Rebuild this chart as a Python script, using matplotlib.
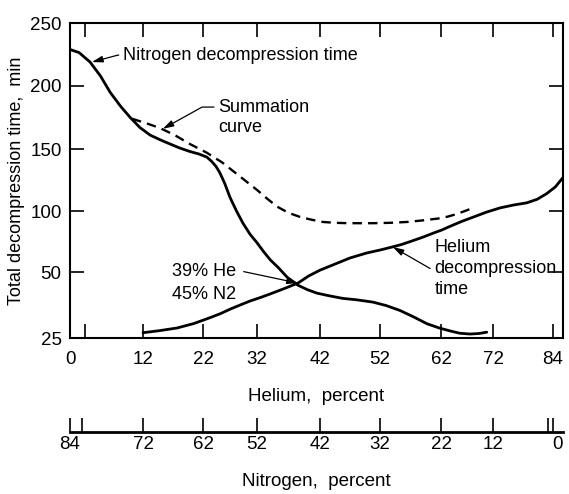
import numpy as np
import matplotlib
matplotlib.use("Agg")
import matplotlib.pyplot as plt

plt.rcParams['font.family'] = ['Liberation Sans', 'DejaVu Sans']

# axis calibration of the original drawing (values -> pixel offsets)
he_breaks = [0, 12, 22, 32, 42, 52, 62, 72, 84]
he_pixels = [0, 73, 133, 187, 250, 310, 371, 423, 493]
t_breaks = [25, 50, 100, 150, 200, 250]
t_pixels = [0, 66, 127, 189, 252, 315]

he_labels = [0, 12, 22, 32, 42, 52, 62, 72, 84]
he_marks = [2.5, 12, 22, 32, 42, 52, 62, 72, 82.3]
n_labels = [84, 72, 62, 52, 42, 32, 22, 12, 0]
n_marks = [84, 82, 72, 62, 52, 42, 32, 22, 12, 2.6, 1.7]
t_ticks = [25, 50, 100, 150, 200, 250]

# curves (helium percent, minutes)
nitrogen_he = [0, 1.5, 3.3, 5, 6.6, 8.3, 9.9, 11.5, 13.2, 15, 16.5, 18, 19.8,
               21.3, 22.7, 23.6, 24.4, 25.1, 26, 27, 28.2, 29.4, 30.7, 32, 33,
               34.1, 35.4, 36.8, 38.5, 40, 41.5, 43.5, 45.8, 48, 50.8, 53, 55.3,
               57.5, 59.7, 61.7, 63.7, 65.6, 67.6, 69.3, 70.8]
nitrogen_t = [229, 226.5, 219, 208, 195, 184, 175, 167, 161, 157, 154, 151,
              148, 146, 143.5, 140, 136, 131, 122.5, 111, 100, 90, 81, 74, 67,
              60, 53.5, 48, 45, 43.3, 42, 41, 40, 39.5, 38.6, 37.3, 35.4,
              33, 30.4, 28.8, 27.7, 26.8, 26.5, 26.7, 27.2]

helium_he = [12, 14.8, 17.7, 20.5, 23.3, 25.2, 27.1, 29, 30.7, 32.5, 34, 36.3,
             38.5, 40.2, 42, 43.5, 45, 47, 49.8, 52, 54, 55.5, 57, 59, 60.8,
             62.2, 63.5, 66, 68.2, 70.7, 73.2, 75.5, 77.8, 79.6, 81.2, 82.7, 84]
helium_t = [27, 27.8, 28.8, 30.5, 32.7, 34.2, 36, 37.6, 39, 40.3, 41.6, 43.7,
            45.8, 48.5, 51.5, 54.5, 57.5, 61.5, 65.6, 68, 70.5, 72.5, 75, 78.5, 82,
            84.5, 87, 91.5, 95, 99, 102.5, 104.8, 106.6, 109.5, 114, 119.5, 127]

summ_he = [10.2, 12.5, 14.8, 17.3, 19.8, 22.7, 25.6, 28.8, 32, 33.6, 35.2, 37,
           38.9, 40.7, 42.5, 44.6, 46.8, 50.8, 53.6, 56.4, 59, 61.8, 63.4, 65,
           66.6, 68.2]
summ_t = [174, 170.5, 166.7, 161, 154, 147, 139, 128, 117, 110, 103.5, 98.5,
          95, 92.8, 91, 90.3, 90, 90, 90.3, 91, 92.3, 94, 95.5, 97.5,
          100, 102.5]


def piecewise(breaks, pixels):
    b = np.asarray(breaks, float)
    p = np.asarray(pixels, float)

    def lin(v, src, dst):
        v = np.asarray(v, float)
        out = np.interp(v, src, dst)
        s0 = (dst[1] - dst[0]) / (src[1] - src[0])
        s1 = (dst[-1] - dst[-2]) / (src[-1] - src[-2])
        out = np.where(v < src[0], dst[0] + (v - src[0]) * s0, out)
        out = np.where(v > src[-1], dst[-1] + (v - src[-1]) * s1, out)
        return out

    return (lambda v: lin(v, b, p)), (lambda v: lin(v, p, b))


fig = plt.figure(figsize=(5.69, 4.94), dpi=100)
ax = fig.add_axes([70/569, 1 - 338/494, 493/569, 315/494])
ax.set_xscale('function', functions=piecewise(he_breaks, he_pixels))
ax.set_yscale('function', functions=piecewise(t_breaks, t_pixels))
ax.set_xlim(0, 84)
ax.set_ylim(25, 250)

ax.plot(nitrogen_he, nitrogen_t, color='black', lw=2, solid_capstyle='round',
        solid_joinstyle='round')
ax.plot(helium_he, helium_t, color='black', lw=2, solid_capstyle='round',
        solid_joinstyle='round')
ax.plot(summ_he, summ_t, color='black', lw=1.7, dashes=(4, 2.6))

for s in ax.spines.values():
    s.set_linewidth(1.5)

ax.xaxis.remove_overlapping_locs = False
ax.set_xticks(he_labels)
ax.set_xticklabels([str(v) for v in he_labels])
ax.get_xticklabels()[-1].set_ha('right')
ax.set_xticks(he_marks, minor=True)
ax.tick_params(axis='x', which='major', length=0, pad=9, labelsize=13.5)
ax.tick_params(axis='x', which='minor', direction='in', length=10, width=1.2,
               top=True, bottom=True)
ax.set_yticks(t_ticks)
ax.set_yticklabels([str(v) for v in t_ticks])
ax.yaxis.set_minor_locator(plt.NullLocator())
ax.tick_params(axis='y', direction='in', length=10, width=1.2, right=True,
               pad=6, labelsize=13.5)

ax.set_xlabel('Helium,  percent', fontsize=13.5, labelpad=15)
ax.set_ylabel('Total decompression time,  min', fontsize=13, labelpad=4)

arrow = dict(arrowstyle='-|>,head_length=0.5,head_width=0.15', color='black',
             lw=0.9, shrinkA=1, shrinkB=0)

ax.annotate('Nitrogen decompression time', xy=(3.6, 219), xytext=(8.7, 224.5),
            fontsize=13, ha='left', va='center',
            arrowprops=dict(arrow, connectionstyle='angle,angleA=0,angleB=15,rad=0',
                            relpos=(0, 0.5)))
ax.annotate('Summation\ncurve', xy=(15.3, 166), xytext=(24.8, 175),
            fontsize=13, ha='left', va='center', linespacing=1.25,
            arrowprops=dict(arrow, connectionstyle='angle,angleA=0,angleB=29,rad=0',
                            relpos=(0, 0.78)))
ax.annotate('39% He\n45% N2', xy=(38.5, 45.8), xytext=(16.8, 45.8),
            fontsize=13, ha='left', va='center', linespacing=1.4,
            arrowprops=dict(arrow, relpos=(1.1, 0.8)))
ax.annotate('Helium\ndecompression\ntime', xy=(54.1, 70.5), xytext=(60.9, 52.7),
            fontsize=13, ha='left', va='center', linespacing=1.3,
            arrowprops=dict(arrow, connectionstyle='angle,angleA=0,angleB=-30,rad=0',
                            relpos=(0, 0.5)))

# nitrogen scale underneath
ax2 = fig.add_axes([70/569, 1 - 432/494, 493/569, 0.03])
ax2.set_xscale('function', functions=piecewise(he_breaks, he_pixels))
ax2.set_xlim(0, 84)
ax2.patch.set_visible(False)
for k in ('top', 'left', 'right'):
    ax2.spines[k].set_visible(False)
ax2.spines['bottom'].set_linewidth(2)
ax2.set_yticks([])
ax2.xaxis.remove_overlapping_locs = False
ax2.set_xticks([84 - n for n in n_labels])
ax2.set_xticklabels([str(n) for n in n_labels])
ax2.get_xticklabels()[-1].set_ha('right')
ax2.set_xticks([84 - n for n in n_marks], minor=True)
ax2.tick_params(axis='x', which='major', length=0, pad=3, labelsize=13.5)
ax2.tick_params(axis='x', which='minor', direction='in', length=10, width=1.2)
ax2.set_xlabel('Nitrogen,  percent', fontsize=13.5, labelpad=14)

fig.savefig('out.png', dpi=100)
